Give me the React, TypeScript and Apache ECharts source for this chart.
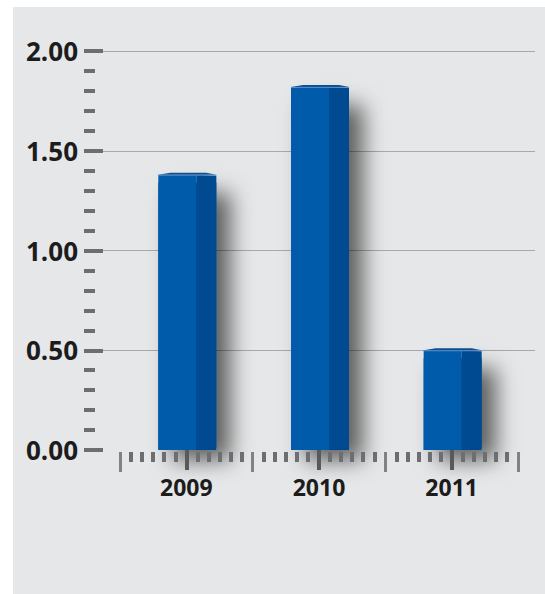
import React, { useEffect, useRef } from "react";
import * as echarts from "echarts";

const categories = ["2009", "2010", "2011"];
const values = [1.38, 1.82, 0.5];
const yMin = 0;
const yMax = 2;
const yInterval = 0.5;

const FONT = "'Open Sans', 'Noto Sans', sans-serif";

export default function App() {
  const ref = useRef<HTMLDivElement>(null);
  useEffect(() => {
    if (!ref.current) return;
    const chart = echarts.init(ref.current, null, { renderer: "svg" });
    const option: any = {
      animation: false,
      graphic: [
        {
          type: "rect",
          z: -10,
          silent: true,
          shape: { x: 13, y: 7, width: 540, height: 600 },
          style: { fill: "#e6e7e8" },
        },
      ],
      grid: [
        { left: 103, right: 10, top: 51, bottom: 144 },
        { left: 120, right: 27, top: 51, bottom: 144 },
      ],
      xAxis: [
        { gridIndex: 0, type: "value", show: false, min: 0, max: 1, position: "bottom" },
        {
          gridIndex: 1,
          type: "category",
          position: "bottom",
          data: categories,
          boundaryGap: true,
          offset: 2,
          axisLine: { show: false },
          axisTick: {
            show: true,
            alignWithLabel: true,
            length: 20,
            lineStyle: { color: "#58595b", width: 4 },
          },
          axisLabel: {
            margin: 23,
            fontSize: 23,
            fontWeight: "bold",
            fontFamily: FONT,
            color: "#1c1c1c",
          },
          z: 5,
        },
        {
          gridIndex: 1,
          type: "value",
          position: "bottom",
          min: 0,
          max: 3,
          interval: 1,
          offset: 2,
          axisLine: { show: false },
          axisLabel: { show: false },
          splitLine: { show: false },
          axisTick: { show: true, length: 20, lineStyle: { color: "#808285", width: 3 } },
          minorTick: {
            show: true,
            splitNumber: 12,
            length: 10,
            lineStyle: { color: "#6d6e71", width: 4 },
          },
          z: 4,
        },
      ],
      yAxis: [
        {
          gridIndex: 0,
          type: "value",
          position: "left",
          min: yMin,
          max: yMax,
          interval: yInterval,
          axisLine: { show: false },
          axisTick: { show: true, length: 19, lineStyle: { color: "#6d6e71", width: 4 } },
          axisLabel: {
            formatter: (v: number) => v.toFixed(2),
            margin: 25,
            fontSize: 26,
            fontWeight: "bold",
            fontFamily: FONT,
            color: "#1c1c1c",
          },
          splitLine: {
            show: true,
            lineStyle: {
              color: ["rgba(0,0,0,0)", "#a7a9ac", "#a7a9ac", "#a7a9ac", "#a7a9ac"],
              width: 1,
            },
          },
        },
        {
          gridIndex: 0,
          type: "value",
          position: "left",
          min: yMin,
          max: yMax,
          interval: yInterval,
          offset: 8,
          axisLine: { show: false },
          axisTick: { show: false },
          axisLabel: { show: false },
          splitLine: { show: false },
          minorTick: {
            show: true,
            splitNumber: 5,
            length: 11,
            lineStyle: { color: "#6d6e71", width: 4 },
          },
        },
        { gridIndex: 1, type: "value", position: "left", min: yMin, max: yMax, show: false },
      ],
      series: [
        {
          type: "custom",
          xAxisIndex: 1,
          yAxisIndex: 2,
          data: values.map((v, i) => [i, v]),
          encode: { x: 0, y: 1 },
          z: 3,
          renderItem: (params: any, api: any) => {
            const idx = api.value(0);
            const v = api.value(1);
            const top = api.coord([idx, v]);
            const base = api.coord([idx, 0]);
            const cx = top[0];
            const left = cx - 28;
            const split = cx + 10;
            const right = cx + 30;
            const t = top[1];
            const b = base[1];
            return {
              type: "group",
              children: [
                {
                  type: "rect",
                  shape: { x: left, y: t + 8, width: right - left, height: b - t - 8 },
                  style: {
                    fill: "#004a91",
                    shadowBlur: 22,
                    shadowColor: "rgba(0,0,0,0.6)",
                    shadowOffsetX: 14,
                    shadowOffsetY: 10,
                  },
                },
                {
                  type: "rect",
                  shape: { x: left, y: t, width: split - left, height: b - t },
                  style: { fill: "#005baa" },
                },
                {
                  type: "polygon",
                  shape: {
                    points: [
                      [split, t],
                      [right, t + 1],
                      [right, b - 2],
                      [split, b],
                    ],
                  },
                  style: { fill: "#004a91" },
                },
                {
                  type: "polygon",
                  shape: {
                    points: [
                      [left, t],
                      [left + 12, t - 2],
                      [right - 10, t - 2],
                      [right, t],
                    ],
                  },
                  style: { fill: "#0a4f8f" },
                },
                {
                  type: "line",
                  shape: { x1: left, y1: t + 0.5, x2: right, y2: t + 0.5 },
                  style: { stroke: "#5b8fc6", lineWidth: 1 },
                },
              ],
            };
          },
        },
      ],
    };
    chart.setOption(option);
    return () => chart.dispose();
  }, []);
  return (
    <div
      ref={ref}
      style={{ position: "absolute", left: 0, top: 0, width: 545, height: 594, background: "#ffffff" }}
    />
  );
}
